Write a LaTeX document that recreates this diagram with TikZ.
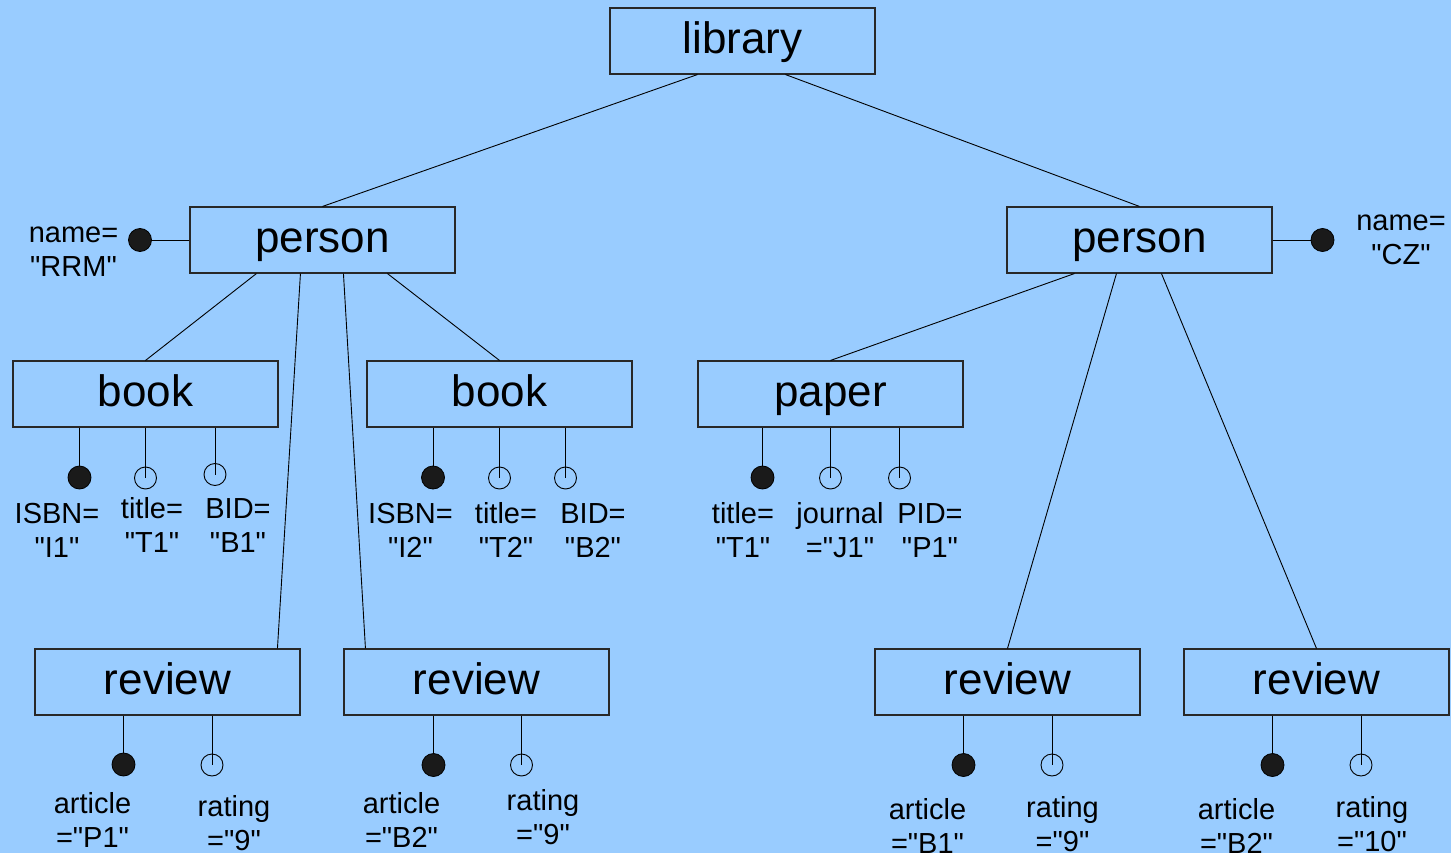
\documentclass[tikz,border=0pt]{standalone}
\usepackage{fontspec}
\setmainfont{Liberation Sans}[Ligatures=TeXOff]
\usetikzlibrary{calc}
\definecolor{bgblue}{RGB}{153,204,255}
\definecolor{dotfill}{RGB}{26,26,26}
\definecolor{boxline}{RGB}{40,40,40}
\tikzset{
  entbox/.style={draw=boxline, line width=1.1pt, minimum width=265pt, minimum height=66pt,
    inner sep=0pt, text height=31pt, text depth=6pt, font=\fontsize{44}{48}\selectfont},
  keyattr/.style={circle, draw=black, fill=dotfill, line width=0.8pt, minimum size=23pt, inner sep=0pt},
  optattr/.style={circle, draw=black, line width=0.9pt, minimum size=22pt, inner sep=0pt},
  lbl/.style={align=center, anchor=base, inner sep=0pt, font=\fontsize{29}{34.5}\selectfont},
  conn/.style={draw=black, line width=0.9pt}
}
\begin{document}
\begin{tikzpicture}[x=1pt, y=-1pt]
\fill[bgblue] (0,0) rectangle (1451,853);
\useasboundingbox (0,0) rectangle (1451,853);

% entity boxes
\node[entbox] (lib) at (742.5,41) {library};
\node[entbox] (pl) at (322.5,240) {person};
\node[entbox] (pr) at (1139.5,240) {person};
\node[entbox] (b1) at (145.5,394) {book};
\node[entbox] (b2) at (499.5,394) {book};
\node[entbox] (pa) at (830.5,394) {paper};
\node[entbox] (r1) at (167.5,682) {review};
\node[entbox] (r2) at (476.5,682) {review};
\node[entbox] (r3) at (1007.5,682) {review};
\node[entbox] (r4) at (1316.5,682) {review};

% tree edges
\draw[conn] ($(lib.south west)+(88,0)$) -- (pl.north);
\draw[conn] ($(lib.south west)+(176,0)$) -- (pr.north);
\draw[conn] ($(pl.south west)+(67,0)$) -- (b1.north);
\draw[conn] ($(pl.south west)+(111,0)$) -- ($(r1.north west)+(243,0)$);
\draw[conn] ($(pl.south west)+(154,0)$) -- ($(r2.north west)+(22,0)$);
\draw[conn] ($(pl.south west)+(198,0)$) -- (b2.north);
\draw[conn] ($(pr.south west)+(68,0)$) -- (pa.north);
\draw[conn] ($(pr.south west)+(110,0)$) -- (r3.north);
\draw[conn] ($(pr.south west)+(155,0)$) -- (r4.north);

% attribute dots
\node[keyattr] (nl) at (140,240) {};
\node[keyattr] (nr) at (1322.5,240) {};
\node[keyattr] (b1a) at (79.5,477.5) {};
\node[optattr] (b1b) at (145.5,478) {};
\node[optattr] (b1c) at (215,474.5) {};
\node[keyattr] (b2a) at (433,477.5) {};
\node[optattr] (b2b) at (499.5,478) {};
\node[optattr] (b2c) at (565.5,478) {};
\node[keyattr] (paa) at (762.5,477.5) {};
\node[optattr] (pab) at (830.5,478) {};
\node[optattr] (pac) at (899.5,478) {};
\node[keyattr] (r1a) at (123.5,764.5) {};
\node[optattr] (r1b) at (212,765) {};
\node[keyattr] (r2a) at (433.5,765) {};
\node[optattr] (r2b) at (521.5,765) {};
\node[keyattr] (r3a) at (963.5,765) {};
\node[optattr] (r3b) at (1052,765) {};
\node[keyattr] (r4a) at (1272.5,765) {};
\node[optattr] (r4b) at (1361,765) {};

% attribute links
\draw[conn] (pl.west) -- (nl.east);
\draw[conn] (pr.east) -- (nr.west);
\foreach \b/\a in {b1/b1a, b2/b2a, pa/paa, r1/r1a, r2/r2a, r3/r3a, r4/r4a}
  \draw[conn] (\a.north |- \b.south) -- (\a.north);
\foreach \b/\a in {b1/b1b, b1/b1c, b2/b2b, b2/b2c, pa/pab, pa/pac, r1/r1b, r2/r2b, r3/r3b, r4/r4b}
  \draw[conn] (\a.center |- \b.south) -- (\a.center);

% labels (anchor base = baseline of the last line)
\node[lbl] (lnl) at (73.5,276.5) {name=\\"RRM"};
\node[lbl] (lnr) at (1401,264.5) {name=\\"CZ"};
\node[lbl] (lb1a) at (57,557.5) {ISBN=\\"I1"};
\node[lbl] (lb1b) at (152,552.5) {title=\\"T1"};
\node[lbl] (lb1c) at (238,552.5) {BID=\\"B1"};
\node[lbl] (lb2a) at (410.5,557.5) {ISBN=\\"I2"};
\node[lbl] (lb2b) at (506,557.5) {title=\\"T2"};
\node[lbl] (lb2c) at (593,557.5) {BID=\\"B2"};
\node[lbl] (lpaa) at (743,557.5) {title=\\"T1"};
\node[lbl] (lpab) at (840,557.5) {journal\\="J1"};
\node[lbl] (lpac) at (930,557.5) {PID=\\"P1"};
\node[lbl] (lr1a) at (92.5,847.5) {article\\="P1"};
\node[lbl] (lr1b) at (234,850.5) {rating\\="9"};
\node[lbl] (lr2a) at (401.5,847.5) {article\\="B2"};
\node[lbl] (lr2b) at (543,844.5) {rating\\="9"};
\node[lbl] (lr3a) at (927.5,853.5) {article\\="B1"};
\node[lbl] (lr3b) at (1062.5,851.5) {rating\\="9"};
\node[lbl] (lr4a) at (1236.5,853.5) {article\\="B2"};
\node[lbl] (lr4b) at (1372,851.5) {rating\\="10"};
\end{tikzpicture}
\end{document}
